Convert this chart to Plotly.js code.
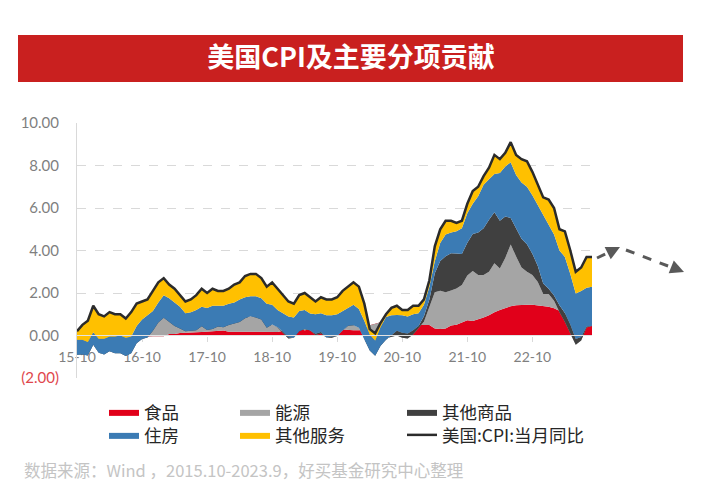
<!DOCTYPE html>
<html><head><meta charset="utf-8">
<script src="https://cdn.plot.ly/plotly-3.0.1.min.js"></script>
<style>html,body{margin:0;padding:0;background:#fff}</style>
</head><body><div id="chart" style="width:702px;height:500px"></div>
<script>
// month categories 2015-10 .. 2023-09
const months = [];
for (let y = 15; y <= 23; y++) for (let m = 1; m <= 12; m++) {
  if ((y === 15 && m < 10) || (y === 23 && m > 9)) continue;
  months.push(y + '-' + String(m).padStart(2, '0'));
}
const tickLabels = ['15-10','16-10','17-10','18-10','19-10','20-10','21-10','22-10'];
const yTickVals = [-2, 0, 2, 4, 6, 8, 10];
const yTickText = ['<span style="color:#e0474c">(2.00)</span>','0.00','2.00','4.00','6.00','8.00','10.00'];

const food = [0.2,0.18,0.11,0.1,0.11,0.08,0.08,0.1,0.04,0.0,-0.03,-0.04,
-0.03,-0.05,-0.03,-0.03,-0.03,0.07,0.07,0.12,0.12,0.15,0.15,0.16,
0.17,0.19,0.22,0.23,0.18,0.18,0.19,0.17,0.19,0.19,0.19,0.19,
0.17,0.17,0.22,0.22,0.28,0.29,0.25,0.28,0.27,0.25,0.24,0.25,
0.29,0.28,0.25,0.25,0.25,0.26,0.48,0.55,0.62,0.57,0.57,0.55,
0.54,0.52,0.55,0.5,0.5,0.49,0.33,0.31,0.33,0.47,0.51,0.63,
0.72,0.68,0.75,0.85,0.95,1.1,1.2,1.3,1.38,1.42,1.45,1.45,
1.45,1.42,1.4,1.35,1.28,1.15,1.04,0.9,0.77,0.66,0.58,0.5];

const energy = [-1.0,-0.95,-0.95,-0.45,-0.9,-0.95,-0.7,-0.8,-0.75,-0.85,-0.72,-0.22,
-0.06,0.08,0.35,0.7,0.9,0.7,0.5,0.35,0.2,0.15,0.2,0.35,
0.25,0.3,0.3,0.3,0.4,0.45,0.5,0.7,0.72,0.72,0.6,0.3,
0.35,0.2,-0.1,-0.36,-0.38,-0.03,0.12,-0.04,-0.25,-0.15,-0.33,-0.36,
-0.31,-0.05,0.25,0.25,0.1,-0.42,-1.0,-1.3,-0.9,-0.7,-0.62,-0.55,
-0.65,-0.66,-0.5,-0.15,0.15,0.85,1.7,1.8,1.7,1.65,1.7,1.75,
2.1,2.35,2.1,2.0,2.05,2.3,1.95,2.35,2.9,2.3,1.75,1.55,
1.4,1.1,0.55,0.6,0.35,-0.05,-0.4,-0.8,-1.2,-0.9,-0.2,-0.05];

const otherGoods = [-0.1,-0.12,-0.1,-0.08,-0.02,-0.02,-0.12,-0.14,-0.12,-0.12,-0.08,-0.1,
-0.08,-0.12,-0.1,-0.06,-0.04,-0.12,-0.12,-0.14,-0.12,-0.08,-0.1,-0.08,
-0.16,-0.18,-0.1,-0.14,-0.08,-0.06,-0.06,-0.06,0.0,-0.06,-0.04,-0.12,
0.0,0.02,0.06,0.06,0.0,-0.06,-0.06,0.0,0.06,0.06,0.0,0.06,
0.0,0.0,-0.04,-0.02,0.02,-0.02,-0.18,-0.2,-0.2,-0.07,0.08,0.22,
0.24,0.24,0.2,0.1,0.26,0.35,0.9,1.4,1.7,1.75,1.65,1.45,
1.55,1.75,2.0,2.2,2.45,2.4,2.25,1.95,1.25,1.3,1.35,1.3,
1.0,0.75,0.5,0.25,0.25,0.32,0.42,0.42,0.27,0.17,0.04,0.0];

const housing = [0.7,0.69,0.64,0.58,0.66,0.74,0.69,0.79,0.83,0.87,0.78,0.81,
0.92,1.04,0.93,0.94,1.07,1.1,1.1,1.02,0.85,0.88,0.95,0.92,
1.04,1.09,0.98,1.01,1.0,0.98,1.07,0.99,0.94,1.0,1.0,1.13,
0.93,0.81,0.87,0.98,0.95,0.95,0.89,0.8,0.92,0.89,1.04,1.0,
1.02,0.92,0.84,0.97,0.88,0.88,0.75,0.71,0.88,1.07,0.92,0.75,
0.82,0.8,0.75,0.6,0.54,0.61,0.57,0.84,1.02,0.98,1.04,1.22,
1.38,1.42,1.7,2.05,1.9,1.8,2.25,2.35,2.62,2.53,2.65,2.7,
2.75,2.88,3.2,3.0,2.87,2.58,2.64,2.38,2.14,2.17,1.83,1.85];

const otherServices = [0.4,0.7,1.0,1.25,1.15,1.05,1.15,1.05,1.0,0.9,1.15,1.05,
0.85,0.75,0.95,0.95,0.8,0.65,0.65,0.55,0.55,0.6,0.7,0.85,
0.7,0.8,0.7,0.7,0.7,0.85,0.8,1.0,1.05,1.05,0.95,0.8,
1.05,1.0,0.85,0.7,0.65,0.75,0.8,0.76,0.6,0.75,0.75,0.75,
0.8,0.95,1.0,1.05,1.05,0.8,0.25,0.34,0.2,0.13,0.35,0.43,
0.25,0.3,0.4,0.35,0.25,0.3,0.7,0.65,0.65,0.55,0.4,0.35,
0.45,0.6,0.45,0.4,0.55,0.9,0.65,0.65,0.95,0.95,1.1,1.2,
1.1,0.95,0.85,1.2,1.25,1.0,1.2,1.1,1.02,1.1,1.45,1.4];

const cpi = [0.2,0.5,0.7,1.4,1.0,0.9,1.1,1.0,1.0,0.8,1.1,1.5,
1.6,1.7,2.1,2.5,2.7,2.4,2.2,1.9,1.6,1.7,1.9,2.2,
2.0,2.2,2.1,2.1,2.2,2.4,2.5,2.8,2.9,2.9,2.7,2.3,
2.5,2.2,1.9,1.6,1.5,1.9,2.0,1.8,1.6,1.8,1.7,1.7,
1.8,2.1,2.3,2.5,2.3,1.5,0.3,0.1,0.6,1.0,1.3,1.4,
1.2,1.2,1.4,1.4,1.7,2.6,4.2,5.0,5.4,5.4,5.3,5.4,
6.2,6.8,7.0,7.5,7.9,8.5,8.3,8.6,9.1,8.5,8.3,8.2,
7.7,7.1,6.5,6.4,6.0,5.0,4.9,4.0,3.0,3.2,3.7,3.7];

const CJK = '"Noto Sans CJK SC", sans-serif';
const NUM = 'Lato, "Noto Sans CJK SC", sans-serif';

function area(name, y, color, legend) {
  return { type: 'scatter', mode: 'lines', x: months, y: y, name: name,
    stackgroup: 'one', fill: 'tonexty', fillcolor: color,
    line: { width: 0, color: color }, legend: legend, hoverinfo: 'skip' };
}
const traces = [
  area('食品', food, '#e1001a', 'legend'),
  area('能源', energy, '#a5a5a5', 'legend2'),
  area('其他商品', otherGoods, '#404040', 'legend3'),
  area('住房', housing, '#3b7bb4', 'legend4'),
  area('其他服务', otherServices, '#ffc000', 'legend5'),
  { type: 'scatter', mode: 'lines', x: months, y: cpi, name: '美国:CPI:当月同比',
    line: { color: '#2b2b2b', width: 2.5 }, legend: 'legend6', hoverinfo: 'skip' }
];

// plot area: left 77, width 515, top 123, height 255
const px = v => (v - 77) / 515;
const py = v => (378 - v) / 255;

function leg(xPix, yPix) {
  return { orientation: 'v', traceorder: 'normal', yanchor: 'middle', xanchor: 'left',
    x: px(xPix), y: py(yPix), bgcolor: 'rgba(0,0,0,0)', borderwidth: 0,
    font: { family: CJK, size: 17.5, color: '#262626' } };
}

const layout = {
  width: 702, height: 500,
  margin: { l: 77, r: 110, t: 123, b: 122 },
  paper_bgcolor: '#ffffff', plot_bgcolor: '#ffffff',
  showlegend: true,
  title: { text: '<b>美国CPI及主要分项贡献</b>', x: 0.5, xanchor: 'center', y: 1 - 58 / 500, yanchor: 'middle',
    font: { family: CJK, size: 27, color: '#ffffff' } },
  xaxis: { type: 'category', range: [0, 95], tickmode: 'array', tickvals: tickLabels, ticktext: tickLabels,
    anchor: 'free', position: 1 / 6, showline: false, showgrid: false, zeroline: false,
    ticks: 'outside', ticklen: 5, tickcolor: '#d9d9d9', ticklabelstandoff: 4,
    layer: 'below traces', tickfont: { family: NUM, size: 14, color: '#7f7f7f' } },
  yaxis: { range: [-2, 10], tickmode: 'array', tickvals: yTickVals, ticktext: yTickText,
    showgrid: true, gridcolor: '#d9d9d9', griddash: 'dash', gridwidth: 1,
    showline: true, linecolor: '#d9d9d9', linewidth: 1, zeroline: false, ticks: '',
    ticklabelstandoff: 14, tickfont: { family: NUM, size: 15, color: '#7f7f7f' } },
  legend: leg(104, 412),
  legend2: leg(235, 412),
  legend3: leg(402, 412),
  legend4: leg(104, 435),
  legend5: leg(235, 435),
  legend6: leg(402, 435),
  shapes: [
    { type: 'rect', xref: 'paper', yref: 'paper', x0: px(18), x1: px(683), y0: py(82), y1: py(35),
      fillcolor: '#c9201f', line: { width: 0 }, layer: 'below' },
    { type: 'line', xref: 'paper', yref: 'y', x0: 0, x1: 1, y0: 0, y1: 0,
      line: { color: '#e3e3e3', width: 1 }, layer: 'above' },
    { type: 'line', xref: 'paper', yref: 'paper', x0: px(597), y0: py(258), x1: px(612), y1: py(251),
      line: { color: '#595959', width: 3, dash: 'dash' } },
    { type: 'line', xref: 'paper', yref: 'paper', x0: px(626), y0: py(250), x1: px(676), y1: py(269),
      line: { color: '#595959', width: 3, dash: 'dash' } }
  ],
  annotations: [
    { xref: 'paper', yref: 'paper', x: px(620), y: py(247), text: '', showarrow: true,
      ax: -10, ay: 5, arrowhead: 2, arrowsize: 1.1, arrowwidth: 2.5, arrowcolor: '#595959', standoff: 0 },
    { xref: 'paper', yref: 'paper', x: px(684), y: py(272), text: '', showarrow: true,
      ax: -10, ay: -4, arrowhead: 2, arrowsize: 1.1, arrowwidth: 2.5, arrowcolor: '#595959', standoff: 0 },
    { xref: 'paper', yref: 'paper', x: px(22), y: py(470), xanchor: 'left', yanchor: 'middle',
      text: '数据来源：Wind ，2015.10-2023.9，好买基金研究中心整理', showarrow: false,
      font: { family: CJK, size: 16.5, color: '#c4c4c4' } }
  ]
};

Plotly.newPlot('chart', traces, layout, { displayModeBar: false, staticPlot: true });
</script>
</body></html>
